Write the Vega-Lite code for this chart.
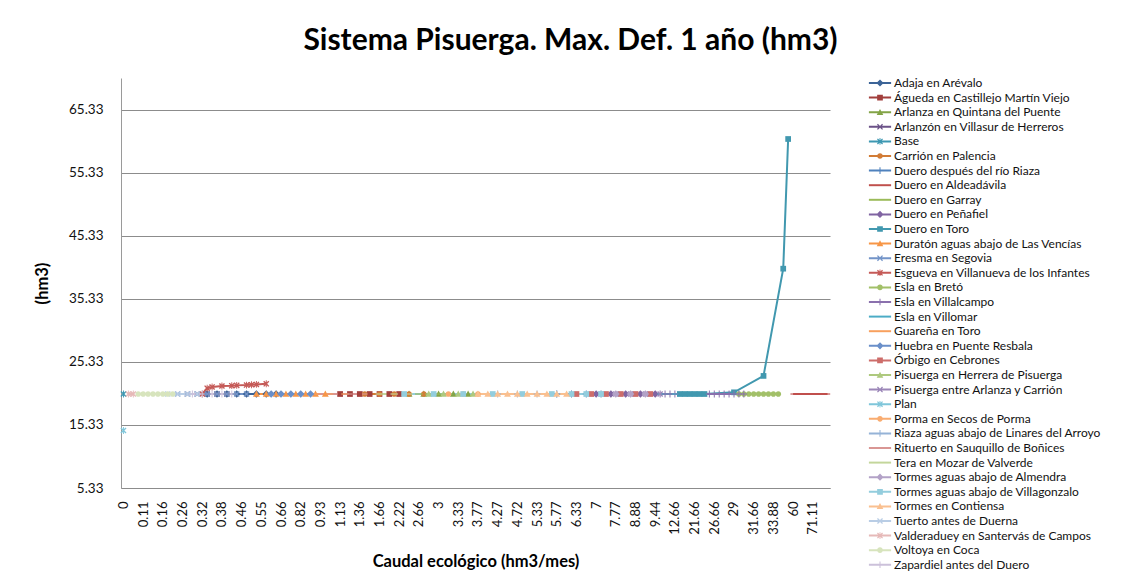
{
"$schema": "https://vega.github.io/schema/vega-lite/v6.json",
"width": 709, "height": 410,
"autosize": "none",
"padding": {"left": 121, "top": 78, "right": 299, "bottom": 93},
"background": "white",
"config": {"view": {"stroke": null}, "font": "Lato", "axis": {"labelOverlap": false}},
"title": {"text": "Sistema Pisuerga. Max. Def. 1 año (hm3)", "font": "Lato", "fontSize": 30, "fontWeight": "bold", "color": "#000000", "anchor": "middle", "frame": "group", "dx": 95, "offset": 21},
"datasets": {"pts": [
{"s":"Adaja en Arévalo","k":17,"v":20.23},{"s":"Adaja en Arévalo","k":19,"v":20.23},{"s":"Adaja en Arévalo","k":21,"v":20.23},{"s":"Adaja en Arévalo","k":23,"v":20.23},{"s":"Adaja en Arévalo","k":25,"v":20.23},{"s":"Adaja en Arévalo","k":27,"v":20.23},{"s":"Adaja en Arévalo","k":29,"v":20.23},{"s":"Adaja en Arévalo","k":31,"v":20.23},
{"s":"Águeda en Castillejo Martín Viejo","k":44,"v":20.23},{"s":"Águeda en Castillejo Martín Viejo","k":46,"v":20.23},{"s":"Águeda en Castillejo Martín Viejo","k":48,"v":20.23},{"s":"Águeda en Castillejo Martín Viejo","k":50,"v":20.23},{"s":"Águeda en Castillejo Martín Viejo","k":52,"v":20.23},{"s":"Águeda en Castillejo Martín Viejo","k":54,"v":20.23},{"s":"Águeda en Castillejo Martín Viejo","k":56,"v":20.23},
{"s":"Arlanza en Quintana del Puente","k":58,"v":20.23},{"s":"Arlanza en Quintana del Puente","k":61,"v":20.23},{"s":"Arlanza en Quintana del Puente","k":64,"v":20.23},{"s":"Arlanza en Quintana del Puente","k":67,"v":20.23},{"s":"Arlanza en Quintana del Puente","k":70,"v":20.23},
{"s":"Arlanzón en Villasur de Herreros","k":13,"v":20.23},{"s":"Arlanzón en Villasur de Herreros","k":15,"v":20.23},{"s":"Arlanzón en Villasur de Herreros","k":17,"v":20.23},{"s":"Arlanzón en Villasur de Herreros","k":19,"v":20.23},{"s":"Arlanzón en Villasur de Herreros","k":21,"v":20.23},
{"s":"Base","k":0,"v":20.23},
{"s":"Carrión en Palencia","k":49,"v":20.23},{"s":"Carrión en Palencia","k":52,"v":20.23},{"s":"Carrión en Palencia","k":55,"v":20.23},{"s":"Carrión en Palencia","k":58,"v":20.23},{"s":"Carrión en Palencia","k":61,"v":20.23},
{"s":"Duero después del río Riaza","k":88,"v":20.23},{"s":"Duero después del río Riaza","k":91,"v":20.23},{"s":"Duero después del río Riaza","k":94,"v":20.23},{"s":"Duero después del río Riaza","k":97,"v":20.23},
{"s":"Duero en Aldeadávila","k":136,"v":20.23},{"s":"Duero en Aldeadávila","k":137,"v":20.23},{"s":"Duero en Aldeadávila","k":138,"v":20.23},{"s":"Duero en Aldeadávila","k":139,"v":20.23},{"s":"Duero en Aldeadávila","k":140,"v":20.23},{"s":"Duero en Aldeadávila","k":141,"v":20.23},{"s":"Duero en Aldeadávila","k":142,"v":20.23},{"s":"Duero en Aldeadávila","k":143,"v":20.23},
{"s":"Duero en Garray","k":60,"v":20.23},{"s":"Duero en Garray","k":62,"v":20.23},{"s":"Duero en Garray","k":64,"v":20.23},{"s":"Duero en Garray","k":66,"v":20.23},
{"s":"Duero en Peñafiel","k":96,"v":20.23},{"s":"Duero en Peñafiel","k":99,"v":20.23},{"s":"Duero en Peñafiel","k":102,"v":20.23},{"s":"Duero en Peñafiel","k":105,"v":20.23},{"s":"Duero en Peñafiel","k":108,"v":20.23},
{"s":"Duero en Toro","k":113,"v":20.23},{"s":"Duero en Toro","k":114,"v":20.23},{"s":"Duero en Toro","k":115,"v":20.23},{"s":"Duero en Toro","k":116,"v":20.23},{"s":"Duero en Toro","k":117,"v":20.23},{"s":"Duero en Toro","k":118,"v":20.23},{"s":"Duero en Toro","k":124,"v":20.5},{"s":"Duero en Toro","k":130,"v":23.1},{"s":"Duero en Toro","k":134,"v":40.1},{"s":"Duero en Toro","k":135,"v":60.66},
{"s":"Duratón aguas abajo de Las Vencías","k":27,"v":20.23},{"s":"Duratón aguas abajo de Las Vencías","k":29,"v":20.23},{"s":"Duratón aguas abajo de Las Vencías","k":31,"v":20.23},{"s":"Duratón aguas abajo de Las Vencías","k":33,"v":20.23},{"s":"Duratón aguas abajo de Las Vencías","k":35,"v":20.23},{"s":"Duratón aguas abajo de Las Vencías","k":37,"v":20.23},{"s":"Duratón aguas abajo de Las Vencías","k":39,"v":20.23},{"s":"Duratón aguas abajo de Las Vencías","k":41,"v":20.23},
{"s":"Eresma en Segovia","k":11,"v":20.23},{"s":"Eresma en Segovia","k":13,"v":20.23},{"s":"Eresma en Segovia","k":15,"v":20.23},{"s":"Eresma en Segovia","k":17,"v":20.23},{"s":"Eresma en Segovia","k":19,"v":20.23},{"s":"Eresma en Segovia","k":21,"v":20.23},{"s":"Eresma en Segovia","k":23,"v":20.23},{"s":"Eresma en Segovia","k":25,"v":20.23},
{"s":"Esgueva en Villanueva de los Infantes","k":16,"v":20.23},{"s":"Esgueva en Villanueva de los Infantes","k":17,"v":21.15},{"s":"Esgueva en Villanueva de los Infantes","k":18,"v":21.35},{"s":"Esgueva en Villanueva de los Infantes","k":20,"v":21.5},{"s":"Esgueva en Villanueva de los Infantes","k":22,"v":21.55},{"s":"Esgueva en Villanueva de los Infantes","k":23,"v":21.6},{"s":"Esgueva en Villanueva de los Infantes","k":25,"v":21.65},{"s":"Esgueva en Villanueva de los Infantes","k":26,"v":21.7},{"s":"Esgueva en Villanueva de los Infantes","k":27,"v":21.75},{"s":"Esgueva en Villanueva de los Infantes","k":29,"v":21.85},
{"s":"Esla en Bretó","k":125,"v":20.23},{"s":"Esla en Bretó","k":126,"v":20.23},{"s":"Esla en Bretó","k":127,"v":20.23},{"s":"Esla en Bretó","k":128,"v":20.23},{"s":"Esla en Bretó","k":129,"v":20.23},{"s":"Esla en Bretó","k":130,"v":20.23},{"s":"Esla en Bretó","k":131,"v":20.23},{"s":"Esla en Bretó","k":132,"v":20.23},{"s":"Esla en Bretó","k":133,"v":20.23},
{"s":"Esla en Villalcampo","k":109,"v":20.23},{"s":"Esla en Villalcampo","k":110,"v":20.23},{"s":"Esla en Villalcampo","k":111,"v":20.23},{"s":"Esla en Villalcampo","k":112,"v":20.23},{"s":"Esla en Villalcampo","k":119,"v":20.23},{"s":"Esla en Villalcampo","k":120,"v":20.23},{"s":"Esla en Villalcampo","k":121,"v":20.23},{"s":"Esla en Villalcampo","k":122,"v":20.23},{"s":"Esla en Villalcampo","k":123,"v":20.23},{"s":"Esla en Villalcampo","k":124,"v":20.23},{"s":"Esla en Villalcampo","k":125,"v":20.23},{"s":"Esla en Villalcampo","k":126,"v":20.23},
{"s":"Esla en Villomar","k":103,"v":20.23},{"s":"Esla en Villomar","k":106,"v":20.23},{"s":"Esla en Villomar","k":109,"v":20.23},{"s":"Esla en Villomar","k":112,"v":20.23},
{"s":"Guareña en Toro","k":36,"v":20.23},{"s":"Guareña en Toro","k":39,"v":20.23},{"s":"Guareña en Toro","k":42,"v":20.23},{"s":"Guareña en Toro","k":45,"v":20.23},
{"s":"Huebra en Puente Resbala","k":30,"v":20.23},{"s":"Huebra en Puente Resbala","k":32,"v":20.23},{"s":"Huebra en Puente Resbala","k":34,"v":20.23},{"s":"Huebra en Puente Resbala","k":36,"v":20.23},{"s":"Huebra en Puente Resbala","k":38,"v":20.23},
{"s":"Órbigo en Cebrones","k":92,"v":20.23},{"s":"Órbigo en Cebrones","k":95,"v":20.23},{"s":"Órbigo en Cebrones","k":98,"v":20.23},{"s":"Órbigo en Cebrones","k":101,"v":20.23},{"s":"Órbigo en Cebrones","k":104,"v":20.23},{"s":"Órbigo en Cebrones","k":107,"v":20.23},
{"s":"Pisuerga en Herrera de Pisuerga","k":62,"v":20.23},{"s":"Pisuerga en Herrera de Pisuerga","k":65,"v":20.23},{"s":"Pisuerga en Herrera de Pisuerga","k":68,"v":20.23},{"s":"Pisuerga en Herrera de Pisuerga","k":71,"v":20.23},
{"s":"Pisuerga entre Arlanza y Carrión","k":97,"v":20.23},{"s":"Pisuerga entre Arlanza y Carrión","k":100,"v":20.23},{"s":"Pisuerga entre Arlanza y Carrión","k":103,"v":20.23},{"s":"Pisuerga entre Arlanza y Carrión","k":106,"v":20.23},{"s":"Pisuerga entre Arlanza y Carrión","k":109,"v":20.23},
{"s":"Plan","k":0,"v":14.45},
{"s":"Porma en Secos de Porma","k":66,"v":20.23},{"s":"Porma en Secos de Porma","k":69,"v":20.23},{"s":"Porma en Secos de Porma","k":72,"v":20.23},
{"s":"Riaza aguas abajo de Linares del Arroyo","k":76,"v":20.23},{"s":"Riaza aguas abajo de Linares del Arroyo","k":80,"v":20.23},{"s":"Riaza aguas abajo de Linares del Arroyo","k":84,"v":20.23},{"s":"Riaza aguas abajo de Linares del Arroyo","k":88,"v":20.23},
{"s":"Rituerto en Sauquillo de Boñices","k":40,"v":20.23},{"s":"Rituerto en Sauquillo de Boñices","k":43,"v":20.23},{"s":"Rituerto en Sauquillo de Boñices","k":46,"v":20.23},{"s":"Rituerto en Sauquillo de Boñices","k":49,"v":20.23},
{"s":"Tera en Mozar de Valverde","k":52,"v":20.23},{"s":"Tera en Mozar de Valverde","k":55,"v":20.23},{"s":"Tera en Mozar de Valverde","k":58,"v":20.23},
{"s":"Tormes aguas abajo de Almendra","k":100,"v":20.23},{"s":"Tormes aguas abajo de Almendra","k":103,"v":20.23},{"s":"Tormes aguas abajo de Almendra","k":106,"v":20.23},
{"s":"Tormes aguas abajo de Villagonzalo","k":57,"v":20.23},{"s":"Tormes aguas abajo de Villagonzalo","k":63,"v":20.23},{"s":"Tormes aguas abajo de Villagonzalo","k":69,"v":20.23},{"s":"Tormes aguas abajo de Villagonzalo","k":75,"v":20.23},{"s":"Tormes aguas abajo de Villagonzalo","k":81,"v":20.23},{"s":"Tormes aguas abajo de Villagonzalo","k":87,"v":20.23},{"s":"Tormes aguas abajo de Villagonzalo","k":91,"v":20.23},{"s":"Tormes aguas abajo de Villagonzalo","k":94,"v":20.23},{"s":"Tormes aguas abajo de Villagonzalo","k":97,"v":20.23},
{"s":"Tormes en Contiensa","k":72,"v":20.23},{"s":"Tormes en Contiensa","k":74,"v":20.23},{"s":"Tormes en Contiensa","k":76,"v":20.23},{"s":"Tormes en Contiensa","k":78,"v":20.23},{"s":"Tormes en Contiensa","k":80,"v":20.23},{"s":"Tormes en Contiensa","k":82,"v":20.23},{"s":"Tormes en Contiensa","k":84,"v":20.23},{"s":"Tormes en Contiensa","k":86,"v":20.23},{"s":"Tormes en Contiensa","k":88,"v":20.23},{"s":"Tormes en Contiensa","k":90,"v":20.23},
{"s":"Tuerto antes de Duerna","k":9,"v":20.23},{"s":"Tuerto antes de Duerna","k":11,"v":20.23},{"s":"Tuerto antes de Duerna","k":13,"v":20.23},{"s":"Tuerto antes de Duerna","k":15,"v":20.23},
{"s":"Valderaduey en Santervás de Campos","k":1,"v":20.23},{"s":"Valderaduey en Santervás de Campos","k":2,"v":20.23},
{"s":"Voltoya en Coca","k":3,"v":20.23},{"s":"Voltoya en Coca","k":4,"v":20.23},{"s":"Voltoya en Coca","k":5,"v":20.23},{"s":"Voltoya en Coca","k":6,"v":20.23},{"s":"Voltoya en Coca","k":7,"v":20.23},{"s":"Voltoya en Coca","k":8,"v":20.23},{"s":"Voltoya en Coca","k":9,"v":20.23},{"s":"Voltoya en Coca","k":10,"v":20.23},
{"s":"Zapardiel antes del Duero","k":14,"v":20.23},{"s":"Zapardiel antes del Duero","k":16,"v":20.23},{"s":"Zapardiel antes del Duero","k":18,"v":20.23},{"s":"Zapardiel antes del Duero","k":20,"v":20.23},{"s":"Zapardiel antes del Duero","k":22,"v":20.23}
]},
"data": {"name": "pts"},
"encoding": {
  "x": {"field": "k", "type": "quantitative",
   "scale": {"domain": [-0.5, 143.5], "nice": false, "zero": false},
   "axis": {"values": [0,4,8,12,16,20,24,28,32,36,40,44,48,52,56,60,64,68,72,76,80,84,88,92,96,100,104,108,112,116,120,124,128,132,136,140],
    "labelExpr": "['0','0.11','0.16','0.26','0.32','0.38','0.46','0.55','0.66','0.82','0.93','1.13','1.36','1.66','2.22','2.66','3','3.33','3.77','4.27','4.72','5.33','5.77','6.33','7','7.77','8.88','9.44','12.66','21.66','26.66','29','31.66','33.88','60','71.11'][round(datum.value/4)]",
    "labelAngle": 270, "labelFontSize": 13, "labelColor": "#111111", "labelPadding": 13, "labelOverlap": false, "labelBound": false, "labelFlush": false, "ticks": false, "grid": false,
    "domainColor": "#8c8c8c", "domainWidth": 1,
    "title": "Caudal ecológico (hm3/mes)", "titleFontSize": 16.5, "titleFontWeight": "bold", "titleColor": "#000000", "titlePadding": 19}},
  "y": {"field": "v", "type": "quantitative",
   "scale": {"domain": [5.33, 70.33], "nice": false, "zero": false},
   "axis": {"values": [5.33,15.33,25.33,35.33,45.33,55.33,65.33], "format": ".2f", "labelFontSize": 13.5, "labelColor": "#111111", "labelPadding": 18, "labelOverlap": false, "ticks": false,
    "grid": true, "gridColor": "#8c8c8c", "gridWidth": 1, "domainColor": "#9a9a9a",
    "title": "(hm3)", "titleFontSize": 16.5, "titleFontWeight": "bold", "titleColor": "#000000", "titlePadding": 18}}
},
"layer": [
{"mark": {"type": "line", "strokeWidth": 2},
 "encoding": {
  "color": {"field": "s", "type": "nominal", "legend": null,
   "scale": {"domain": ["Adaja en Arévalo","Águeda en Castillejo Martín Viejo","Arlanza en Quintana del Puente","Arlanzón en Villasur de Herreros","Base","Carrión en Palencia","Duero después del río Riaza","Duero en Aldeadávila","Duero en Garray","Duero en Peñafiel","Duero en Toro","Duratón aguas abajo de Las Vencías","Eresma en Segovia","Esgueva en Villanueva de los Infantes","Esla en Bretó","Esla en Villalcampo","Esla en Villomar","Guareña en Toro","Huebra en Puente Resbala","Órbigo en Cebrones","Pisuerga en Herrera de Pisuerga","Pisuerga entre Arlanza y Carrión","Plan","Porma en Secos de Porma","Riaza aguas abajo de Linares del Arroyo","Rituerto en Sauquillo de Boñices","Tera en Mozar de Valverde","Tormes aguas abajo de Almendra","Tormes aguas abajo de Villagonzalo","Tormes en Contiensa","Tuerto antes de Duerna","Valderaduey en Santervás de Campos","Voltoya en Coca","Zapardiel antes del Duero"],
    "range": ["#3c6497","#a23f3c","#83a447","#6b5288","#3d98b2","#d27c36","#4f81bd","#c0504d","#9bbb59","#8064a2","#4198af","#f79646","#7394c8","#c55a57","#a2c068","#8a70ad","#4bacc6","#f8a05e","#6a8fc9","#cd6d6a","#aec97e","#9b86b8","#7fc6da","#f9ac70","#95b3d7","#d99694","#c3d69b","#b3a2c7","#93cddd","#fac090","#b9cde5","#e6b9b8","#d7e4bd","#ccc1da"]}}
 }},
{"mark": {"type": "point", "filled": true, "size": 58, "opacity": 1},
 "encoding": {
  "color": {"field": "s", "type": "nominal", "legend": null,
   "scale": {"domain": ["Adaja en Arévalo","Águeda en Castillejo Martín Viejo","Arlanza en Quintana del Puente","Arlanzón en Villasur de Herreros","Base","Carrión en Palencia","Duero después del río Riaza","Duero en Aldeadávila","Duero en Garray","Duero en Peñafiel","Duero en Toro","Duratón aguas abajo de Las Vencías","Eresma en Segovia","Esgueva en Villanueva de los Infantes","Esla en Bretó","Esla en Villalcampo","Esla en Villomar","Guareña en Toro","Huebra en Puente Resbala","Órbigo en Cebrones","Pisuerga en Herrera de Pisuerga","Pisuerga entre Arlanza y Carrión","Plan","Porma en Secos de Porma","Riaza aguas abajo de Linares del Arroyo","Rituerto en Sauquillo de Boñices","Tera en Mozar de Valverde","Tormes aguas abajo de Almendra","Tormes aguas abajo de Villagonzalo","Tormes en Contiensa","Tuerto antes de Duerna","Valderaduey en Santervás de Campos","Voltoya en Coca","Zapardiel antes del Duero"],
    "range": ["#3c6497","#a23f3c","#83a447","#6b5288","#3d98b2","#d27c36","#4f81bd","#c0504d","#9bbb59","#8064a2","#4198af","#f79646","#7394c8","#c55a57","#a2c068","#8a70ad","#4bacc6","#f8a05e","#6a8fc9","#cd6d6a","#aec97e","#9b86b8","#7fc6da","#f9ac70","#95b3d7","#d99694","#c3d69b","#b3a2c7","#93cddd","#fac090","#b9cde5","#e6b9b8","#d7e4bd","#ccc1da"]}},
  "shape": {"field": "s", "type": "nominal", "legend": null,
   "scale": {"domain": ["Adaja en Arévalo","Águeda en Castillejo Martín Viejo","Arlanza en Quintana del Puente","Arlanzón en Villasur de Herreros","Base","Carrión en Palencia","Duero después del río Riaza","Duero en Aldeadávila","Duero en Garray","Duero en Peñafiel","Duero en Toro","Duratón aguas abajo de Las Vencías","Eresma en Segovia","Esgueva en Villanueva de los Infantes","Esla en Bretó","Esla en Villalcampo","Esla en Villomar","Guareña en Toro","Huebra en Puente Resbala","Órbigo en Cebrones","Pisuerga en Herrera de Pisuerga","Pisuerga entre Arlanza y Carrión","Plan","Porma en Secos de Porma","Riaza aguas abajo de Linares del Arroyo","Rituerto en Sauquillo de Boñices","Tera en Mozar de Valverde","Tormes aguas abajo de Almendra","Tormes aguas abajo de Villagonzalo","Tormes en Contiensa","Tuerto antes de Duerna","Valderaduey en Santervás de Campos","Voltoya en Coca","Zapardiel antes del Duero"],
    "range": [
"M0,-1L1,0L0,1L-1,0Z",
"M-0.75,-0.75H0.75V0.75H-0.75Z",
"M0,-0.9L0.9,0.75H-0.9Z",
"M-0.8,-0.55L-0.55,-0.8L0,-0.25L0.55,-0.8L0.8,-0.55L0.25,0L0.8,0.55L0.55,0.8L0,0.25L-0.55,0.8L-0.8,0.55L-0.25,0Z",
"M-0.8,-0.55L-0.55,-0.8L0,-0.25L0.55,-0.8L0.8,-0.55L0.25,0L0.8,0.55L0.55,0.8L0,0.25L-0.55,0.8L-0.8,0.55L-0.25,0ZM-0.12,-0.9H0.12V0.9H-0.12Z",
"M-0.75,0A0.75,0.75,0,1,1,0.75,0A0.75,0.75,0,1,1,-0.75,0Z",
"M-0.13,-0.9H0.13V-0.13H0.9V0.13H0.13V0.9H-0.13V0.13H-0.9V-0.13H-0.13Z",
"M-0.7,-0.15H0.7V0.15H-0.7Z",
"M-1,-0.15H1V0.15H-1Z",
"M0,-1L1,0L0,1L-1,0Z",
"M-0.75,-0.75H0.75V0.75H-0.75Z",
"M0,-0.9L0.9,0.75H-0.9Z",
"M-0.8,-0.55L-0.55,-0.8L0,-0.25L0.55,-0.8L0.8,-0.55L0.25,0L0.8,0.55L0.55,0.8L0,0.25L-0.55,0.8L-0.8,0.55L-0.25,0Z",
"M-0.8,-0.55L-0.55,-0.8L0,-0.25L0.55,-0.8L0.8,-0.55L0.25,0L0.8,0.55L0.55,0.8L0,0.25L-0.55,0.8L-0.8,0.55L-0.25,0ZM-0.12,-0.9H0.12V0.9H-0.12Z",
"M-0.75,0A0.75,0.75,0,1,1,0.75,0A0.75,0.75,0,1,1,-0.75,0Z",
"M-0.13,-0.9H0.13V-0.13H0.9V0.13H0.13V0.9H-0.13V0.13H-0.9V-0.13H-0.13Z",
"M-0.7,-0.15H0.7V0.15H-0.7Z",
"M-1,-0.15H1V0.15H-1Z",
"M0,-1L1,0L0,1L-1,0Z",
"M-0.75,-0.75H0.75V0.75H-0.75Z",
"M0,-0.9L0.9,0.75H-0.9Z",
"M-0.8,-0.55L-0.55,-0.8L0,-0.25L0.55,-0.8L0.8,-0.55L0.25,0L0.8,0.55L0.55,0.8L0,0.25L-0.55,0.8L-0.8,0.55L-0.25,0Z",
"M-0.8,-0.55L-0.55,-0.8L0,-0.25L0.55,-0.8L0.8,-0.55L0.25,0L0.8,0.55L0.55,0.8L0,0.25L-0.55,0.8L-0.8,0.55L-0.25,0ZM-0.12,-0.9H0.12V0.9H-0.12Z",
"M-0.75,0A0.75,0.75,0,1,1,0.75,0A0.75,0.75,0,1,1,-0.75,0Z",
"M-0.13,-0.9H0.13V-0.13H0.9V0.13H0.13V0.9H-0.13V0.13H-0.9V-0.13H-0.13Z",
"M-0.7,-0.15H0.7V0.15H-0.7Z",
"M-1,-0.15H1V0.15H-1Z",
"M0,-1L1,0L0,1L-1,0Z",
"M-0.75,-0.75H0.75V0.75H-0.75Z",
"M0,-0.9L0.9,0.75H-0.9Z",
"M-0.8,-0.55L-0.55,-0.8L0,-0.25L0.55,-0.8L0.8,-0.55L0.25,0L0.8,0.55L0.55,0.8L0,0.25L-0.55,0.8L-0.8,0.55L-0.25,0Z",
"M-0.8,-0.55L-0.55,-0.8L0,-0.25L0.55,-0.8L0.8,-0.55L0.25,0L0.8,0.55L0.55,0.8L0,0.25L-0.55,0.8L-0.8,0.55L-0.25,0ZM-0.12,-0.9H0.12V0.9H-0.12Z",
"M-0.75,0A0.75,0.75,0,1,1,0.75,0A0.75,0.75,0,1,1,-0.75,0Z",
"M-0.13,-0.9H0.13V-0.13H0.9V0.13H0.13V0.9H-0.13V0.13H-0.9V-0.13H-0.13Z"
]}}
 }},
{"mark": {"type": "point", "filled": true, "size": 0, "opacity": 1},
 "encoding": {
  "color": {"field": "s", "type": "nominal",
   "legend": {"title": null, "orient": "none", "legendX": 753, "legendY": -1, "direction": "vertical", "labelFont": "Lato", "labelFontSize": 12, "labelColor": "#111111", "labelLimit": 300, "labelOffset": 8, "symbolSize": 36, "symbolOpacity": 1, "symbolStrokeWidth": 0, "rowPadding": 2.6, "symbolLimit": 50},
   "scale": {"domain": ["Adaja en Arévalo","Águeda en Castillejo Martín Viejo","Arlanza en Quintana del Puente","Arlanzón en Villasur de Herreros","Base","Carrión en Palencia","Duero después del río Riaza","Duero en Aldeadávila","Duero en Garray","Duero en Peñafiel","Duero en Toro","Duratón aguas abajo de Las Vencías","Eresma en Segovia","Esgueva en Villanueva de los Infantes","Esla en Bretó","Esla en Villalcampo","Esla en Villomar","Guareña en Toro","Huebra en Puente Resbala","Órbigo en Cebrones","Pisuerga en Herrera de Pisuerga","Pisuerga entre Arlanza y Carrión","Plan","Porma en Secos de Porma","Riaza aguas abajo de Linares del Arroyo","Rituerto en Sauquillo de Boñices","Tera en Mozar de Valverde","Tormes aguas abajo de Almendra","Tormes aguas abajo de Villagonzalo","Tormes en Contiensa","Tuerto antes de Duerna","Valderaduey en Santervás de Campos","Voltoya en Coca","Zapardiel antes del Duero"],
    "range": ["#3c6497","#a23f3c","#83a447","#6b5288","#3d98b2","#d27c36","#4f81bd","#c0504d","#9bbb59","#8064a2","#4198af","#f79646","#7394c8","#c55a57","#a2c068","#8a70ad","#4bacc6","#f8a05e","#6a8fc9","#cd6d6a","#aec97e","#9b86b8","#7fc6da","#f9ac70","#95b3d7","#d99694","#c3d69b","#b3a2c7","#93cddd","#fac090","#b9cde5","#e6b9b8","#d7e4bd","#ccc1da"]}},
  "shape": {"field": "s", "type": "nominal",
   "legend": {"title": null, "orient": "none", "legendX": 753, "legendY": -1, "direction": "vertical", "labelFont": "Lato", "labelFontSize": 12, "labelColor": "#111111", "labelLimit": 300, "labelOffset": 8, "symbolSize": 36, "symbolOpacity": 1, "symbolStrokeWidth": 0, "rowPadding": 2.6, "symbolLimit": 50},
   "scale": {"domain": ["Adaja en Arévalo","Águeda en Castillejo Martín Viejo","Arlanza en Quintana del Puente","Arlanzón en Villasur de Herreros","Base","Carrión en Palencia","Duero después del río Riaza","Duero en Aldeadávila","Duero en Garray","Duero en Peñafiel","Duero en Toro","Duratón aguas abajo de Las Vencías","Eresma en Segovia","Esgueva en Villanueva de los Infantes","Esla en Bretó","Esla en Villalcampo","Esla en Villomar","Guareña en Toro","Huebra en Puente Resbala","Órbigo en Cebrones","Pisuerga en Herrera de Pisuerga","Pisuerga entre Arlanza y Carrión","Plan","Porma en Secos de Porma","Riaza aguas abajo de Linares del Arroyo","Rituerto en Sauquillo de Boñices","Tera en Mozar de Valverde","Tormes aguas abajo de Almendra","Tormes aguas abajo de Villagonzalo","Tormes en Contiensa","Tuerto antes de Duerna","Valderaduey en Santervás de Campos","Voltoya en Coca","Zapardiel antes del Duero"],
    "range": [
"M-3.7,-0.33H3.7V0.33H-3.7ZM0,-1.2L1.2,0L0,1.2L-1.2,0Z",
"M-3.7,-0.33H3.7V0.33H-3.7ZM-0.95,-0.95H0.95V0.95H-0.95Z",
"M-3.7,-0.33H3.7V0.33H-3.7ZM0,-1.1L1.1,0.9H-1.1Z",
"M-3.7,-0.33H3.7V0.33H-3.7ZM-1,-0.7L-0.7,-1L0,-0.3L0.7,-1L1,-0.7L0.3,0L1,0.7L0.7,1L0,0.3L-0.7,1L-1,0.7L-0.3,0Z",
"M-3.7,-0.33H3.7V0.33H-3.7ZM-1,-0.7L-0.7,-1L0,-0.3L0.7,-1L1,-0.7L0.3,0L1,0.7L0.7,1L0,0.3L-0.7,1L-1,0.7L-0.3,0ZM-0.15,-1.1H0.15V1.1H-0.15Z",
"M-3.7,-0.33H3.7V0.33H-3.7ZM-0.95,0A0.95,0.95,0,1,1,0.95,0A0.95,0.95,0,1,1,-0.95,0Z",
"M-3.7,-0.33H3.7V0.33H-3.7ZM-0.17,-1.1H0.17V-0.17H1.1V0.17H0.17V1.1H-0.17V0.17H-1.1V-0.17H-0.17Z",
"M-3.7,-0.33H3.7V0.33H-3.7Z",
"M-3.7,-0.33H3.7V0.33H-3.7Z",
"M-3.7,-0.33H3.7V0.33H-3.7ZM0,-1.2L1.2,0L0,1.2L-1.2,0Z",
"M-3.7,-0.33H3.7V0.33H-3.7ZM-0.95,-0.95H0.95V0.95H-0.95Z",
"M-3.7,-0.33H3.7V0.33H-3.7ZM0,-1.1L1.1,0.9H-1.1Z",
"M-3.7,-0.33H3.7V0.33H-3.7ZM-1,-0.7L-0.7,-1L0,-0.3L0.7,-1L1,-0.7L0.3,0L1,0.7L0.7,1L0,0.3L-0.7,1L-1,0.7L-0.3,0Z",
"M-3.7,-0.33H3.7V0.33H-3.7ZM-1,-0.7L-0.7,-1L0,-0.3L0.7,-1L1,-0.7L0.3,0L1,0.7L0.7,1L0,0.3L-0.7,1L-1,0.7L-0.3,0ZM-0.15,-1.1H0.15V1.1H-0.15Z",
"M-3.7,-0.33H3.7V0.33H-3.7ZM-0.95,0A0.95,0.95,0,1,1,0.95,0A0.95,0.95,0,1,1,-0.95,0Z",
"M-3.7,-0.33H3.7V0.33H-3.7ZM-0.17,-1.1H0.17V-0.17H1.1V0.17H0.17V1.1H-0.17V0.17H-1.1V-0.17H-0.17Z",
"M-3.7,-0.33H3.7V0.33H-3.7Z",
"M-3.7,-0.33H3.7V0.33H-3.7Z",
"M-3.7,-0.33H3.7V0.33H-3.7ZM0,-1.2L1.2,0L0,1.2L-1.2,0Z",
"M-3.7,-0.33H3.7V0.33H-3.7ZM-0.95,-0.95H0.95V0.95H-0.95Z",
"M-3.7,-0.33H3.7V0.33H-3.7ZM0,-1.1L1.1,0.9H-1.1Z",
"M-3.7,-0.33H3.7V0.33H-3.7ZM-1,-0.7L-0.7,-1L0,-0.3L0.7,-1L1,-0.7L0.3,0L1,0.7L0.7,1L0,0.3L-0.7,1L-1,0.7L-0.3,0Z",
"M-3.7,-0.33H3.7V0.33H-3.7ZM-1,-0.7L-0.7,-1L0,-0.3L0.7,-1L1,-0.7L0.3,0L1,0.7L0.7,1L0,0.3L-0.7,1L-1,0.7L-0.3,0ZM-0.15,-1.1H0.15V1.1H-0.15Z",
"M-3.7,-0.33H3.7V0.33H-3.7ZM-0.95,0A0.95,0.95,0,1,1,0.95,0A0.95,0.95,0,1,1,-0.95,0Z",
"M-3.7,-0.33H3.7V0.33H-3.7ZM-0.17,-1.1H0.17V-0.17H1.1V0.17H0.17V1.1H-0.17V0.17H-1.1V-0.17H-0.17Z",
"M-3.7,-0.33H3.7V0.33H-3.7Z",
"M-3.7,-0.33H3.7V0.33H-3.7Z",
"M-3.7,-0.33H3.7V0.33H-3.7ZM0,-1.2L1.2,0L0,1.2L-1.2,0Z",
"M-3.7,-0.33H3.7V0.33H-3.7ZM-0.95,-0.95H0.95V0.95H-0.95Z",
"M-3.7,-0.33H3.7V0.33H-3.7ZM0,-1.1L1.1,0.9H-1.1Z",
"M-3.7,-0.33H3.7V0.33H-3.7ZM-1,-0.7L-0.7,-1L0,-0.3L0.7,-1L1,-0.7L0.3,0L1,0.7L0.7,1L0,0.3L-0.7,1L-1,0.7L-0.3,0Z",
"M-3.7,-0.33H3.7V0.33H-3.7ZM-1,-0.7L-0.7,-1L0,-0.3L0.7,-1L1,-0.7L0.3,0L1,0.7L0.7,1L0,0.3L-0.7,1L-1,0.7L-0.3,0ZM-0.15,-1.1H0.15V1.1H-0.15Z",
"M-3.7,-0.33H3.7V0.33H-3.7ZM-0.95,0A0.95,0.95,0,1,1,0.95,0A0.95,0.95,0,1,1,-0.95,0Z",
"M-3.7,-0.33H3.7V0.33H-3.7ZM-0.17,-1.1H0.17V-0.17H1.1V0.17H0.17V1.1H-0.17V0.17H-1.1V-0.17H-0.17Z"
]}}
 }}
],
"resolve": {"scale": {"color": "independent", "shape": "independent"}}
}
